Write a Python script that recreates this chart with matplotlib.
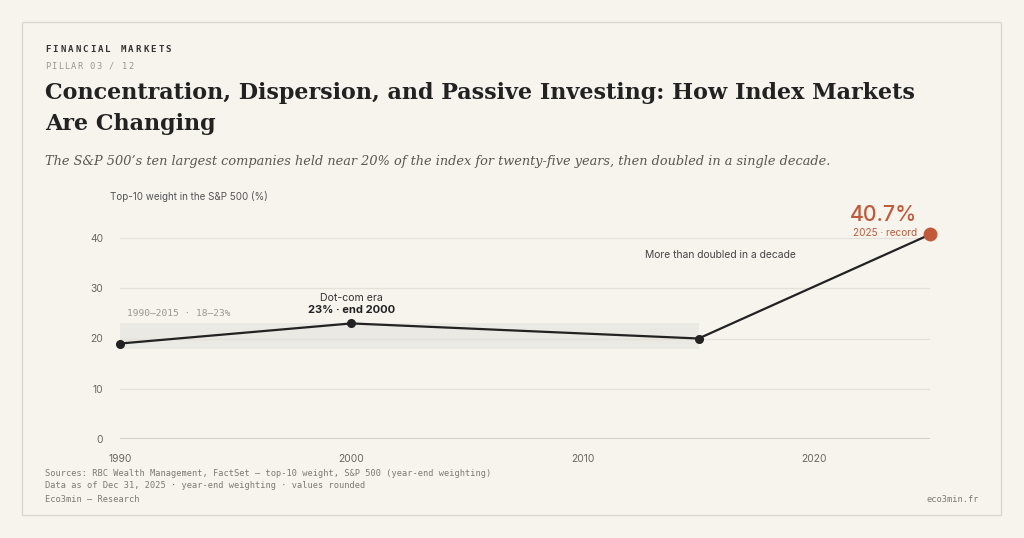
import numpy as np
import matplotlib
matplotlib.use("Agg")
import matplotlib.pyplot as plt
from matplotlib.patches import Rectangle

# Data
years = [1990, 2000, 2015, 2025]
top10_weight = [19, 23, 20, 40.7]
band_years = (1990, 2015)
band_range = (18, 23)
x_ticks = [1990, 2000, 2010, 2020]
y_ticks = [0, 10, 20, 30, 40]

BG = "#f7f4ee"
INK = "#222222"
ACCENT = "#c05a3a"
GRID = "#e4e1da"

W, H = 1024, 538


def fx(px):
    return px / W


def fy(py):
    return 1 - py / H


def spaced_text(fig, x, y, s, advance, **kwargs):
    """ Draw letter-spaced text one character at a time (pixel coordinates). """
    for i, ch in enumerate(s):
        fig.text(fx(x + i * advance), fy(y), ch, va="center", ha="left", **kwargs)


fig = plt.figure(figsize=(W / 100, H / 100), dpi=100, facecolor=BG)

# Card border
fig.patches.append(Rectangle((fx(22), fy(515)), fx(1001) - fx(22), fy(22) - fy(515),
                             transform=fig.transFigure, facecolor="none",
                             edgecolor="#dcd8cf", linewidth=1.0))

# Header
spaced_text(fig, 45, 49, "FINANCIAL MARKETS", 7.55, family="DejaVu Sans Mono",
            fontsize=6.6, fontweight="bold", color="#333333")
spaced_text(fig, 45, 66, "PILLAR 03 / 12", 6.4, family="DejaVu Sans Mono",
            fontsize=6.3, color="#9a9791")
fig.text(fx(45), fy(93), "Concentration, Dispersion, and Passive Investing: How Index Markets",
         family="DejaVu Serif", fontweight="bold", fontsize=16.0, color=INK, va="center")
fig.text(fx(45), fy(124), "Are Changing",
         family="DejaVu Serif", fontweight="bold", fontsize=16.0, color=INK, va="center")
fig.text(fx(45), fy(162),
         "The S&P 500\u2019s ten largest companies held near 20% of the index for "
         "twenty-five years, then doubled in a single decade.",
         family="DejaVu Serif", style="italic", fontsize=9.3, color="#5a5752", va="center")
fig.text(fx(110), fy(197), "Top-10 weight in the S&P 500 (%)", family="Inter",
         fontsize=7.1, color="#555555", va="center")

# Chart area
ymax = 42
unit = (439 - 238) / 40
top_px = 439 - ymax * unit
ax = fig.add_axes([fx(120), fy(439), fx(930) - fx(120), fy(top_px) - fy(439)])
ax.set_facecolor(BG)
ax.set_xlim(1990, 2025)
ax.set_ylim(0, ymax)

ax.axvspan(*band_years, ymin=band_range[0] / ymax, ymax=band_range[1] / ymax,
           facecolor="#ebe9e3", edgecolor="none", zorder=0)
for yt in y_ticks[1:]:
    ax.axhline(yt, color=GRID, linewidth=0.9, zorder=1)
ax.axhline(0, color="#cfccc5", linewidth=1.3, zorder=1)

ax.plot(years, top10_weight, color=INK, linewidth=1.6, zorder=3, clip_on=False,
        solid_capstyle="round")
ax.plot(years[:-1], top10_weight[:-1], "o", color=INK, markersize=5.5, zorder=4,
        clip_on=False)
ax.plot(years[-1:], top10_weight[-1:], "o", color=ACCENT, markersize=9, zorder=5,
        clip_on=False)

for s in ax.spines.values():
    s.set_visible(False)
ax.set_xticks(x_ticks)
ax.set_yticks(y_ticks)
ax.tick_params(length=0, labelsize=7.4, labelcolor="#6a6762")
ax.tick_params(axis="x", pad=11)
ax.tick_params(axis="y", pad=12)
for lab in ax.get_xticklabels() + ax.get_yticklabels():
    lab.set_family("Inter")

# Annotations
ax.text(1990.3, 25, "1990\u20132015 \u00b7 18\u201323%", family="DejaVu Sans Mono",
        fontsize=6.8, color="#9a9791", va="center")
ax.text(2000, 28, "Dot-com era", family="Inter", fontsize=7.6, color="#333333",
        ha="center", va="center")
ax.text(2000, 25.7, "23% \u00b7 end 2000", family="Inter", fontsize=8.0,
        fontweight="bold", color=INK, ha="center", va="center")
ax.text(2012.7, 36.7, "More than doubled in a decade", family="Inter", fontsize=7.4,
        color="#444444", va="center")
ax.text(2024.45, 44.6, "40.7%", family="Inter", fontsize=15.3, fontweight="medium",
        color=ACCENT, ha="right", va="center")
ax.text(2024.45, 41.0, "2025 \u00b7 record", family="Inter", fontsize=7.2,
        color=ACCENT, ha="right", va="center")

# Footer
foot = dict(family="DejaVu Sans Mono", fontsize=6.2, color="#7d7a74", va="center")
fig.text(fx(45), fy(473), "Sources: RBC Wealth Management, FactSet \u2014 top-10 weight, "
         "S&P 500 (year-end weighting)", **foot)
fig.text(fx(45), fy(486), "Data as of Dec 31, 2025 \u00b7 year-end weighting \u00b7 values rounded",
         **foot)
fig.text(fx(45), fy(500), "Eco3min \u2014 Research", **foot)
fig.text(fx(979), fy(500), "eco3min.fr", ha="right", **foot)

fig.savefig("out.png", dpi=100, facecolor=BG)
